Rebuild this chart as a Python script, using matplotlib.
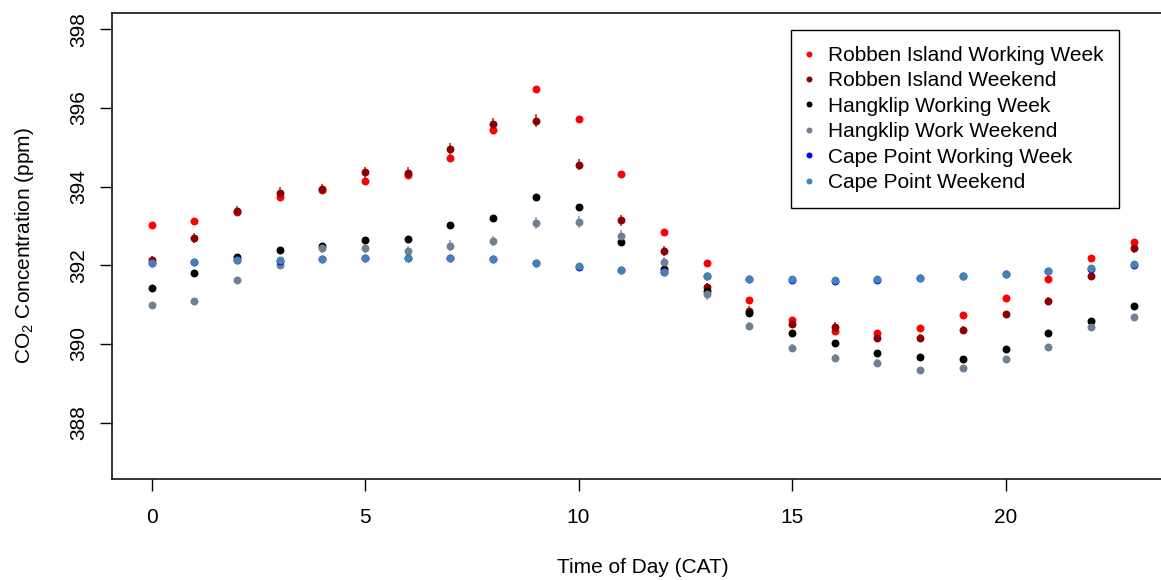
import matplotlib
matplotlib.use("Agg")
from matplotlib import pyplot as plt
from matplotlib.lines import Line2D
from matplotlib.colors import to_rgba

plt.rcParams['font.family'] = ['Liberation Sans', 'DejaVu Sans']
plt.rcParams['mathtext.fontset'] = 'custom'
plt.rcParams['mathtext.rm'] = 'Liberation Sans'
plt.rcParams['mathtext.default'] = 'rm'

#Hour of day (CAT)
hours = list(range(24))

#Robben Island
rob_ww = [393.03, 393.13, 393.36, 393.73, 393.92, 394.15, 394.30, 394.72, 395.44, 396.47, 395.72, 394.33,
          392.85, 392.06, 391.13, 390.62, 390.32, 390.27, 390.40, 390.73, 391.18, 391.66, 392.19, 392.60]
rob_ww_err = [0.06, 0.06, 0.07, 0.07, 0.07, 0.08, 0.08, 0.08, 0.09, 0.09, 0.08, 0.07,
              0.07, 0.07, 0.07, 0.07, 0.07, 0.06, 0.06, 0.06, 0.06, 0.06, 0.07, 0.08]
rob_we = [392.14, 392.69, 393.38, 393.84, 393.93, 394.36, 394.35, 394.96, 395.59, 395.68, 394.56, 393.15,
          392.37, 391.44, 390.85, 390.52, 390.44, 390.14, 390.15, 390.36, 390.75, 391.09, 391.73, 392.43]
rob_we_err = [0.10, 0.12, 0.13, 0.14, 0.13, 0.15, 0.14, 0.15, 0.16, 0.17, 0.15, 0.14,
              0.13, 0.12, 0.11, 0.11, 0.11, 0.10, 0.10, 0.10, 0.10, 0.10, 0.11, 0.12]

#Hangklip
hang_ww = [391.43, 391.81, 392.21, 392.40, 392.50, 392.63, 392.67, 393.03, 393.21, 393.74, 393.49, 392.58,
           391.90, 391.34, 390.78, 390.29, 390.02, 389.78, 389.67, 389.62, 389.86, 390.27, 390.59, 390.96]
hang_ww_err = [0.06, 0.06, 0.07, 0.07, 0.07, 0.07, 0.07, 0.07, 0.07, 0.08, 0.08, 0.08,
               0.07, 0.07, 0.07, 0.07, 0.06, 0.06, 0.06, 0.06, 0.06, 0.06, 0.06, 0.06]
hang_we = [390.98, 391.08, 391.62, 392.00, 392.44, 392.45, 392.37, 392.50, 392.61, 393.07, 393.11, 392.75,
           392.08, 391.26, 390.46, 389.90, 389.65, 389.52, 389.34, 389.39, 389.62, 389.93, 390.43, 390.68]
hang_we_err = [0.08, 0.08, 0.09, 0.10, 0.13, 0.13, 0.13, 0.13, 0.13, 0.15, 0.15, 0.15,
               0.14, 0.13, 0.11, 0.10, 0.09, 0.09, 0.08, 0.08, 0.08, 0.08, 0.09, 0.09]

#Cape Point
cape_ww = [392.05, 392.09, 392.13, 392.12, 392.15, 392.18, 392.19, 392.19, 392.15, 392.06, 391.96, 391.87,
           391.82, 391.72, 391.66, 391.63, 391.60, 391.63, 391.68, 391.73, 391.79, 391.85, 391.91, 392.00]
cape_ww_err = [0.04] * 24
cape_we = [392.05, 392.09, 392.13, 392.14, 392.15, 392.18, 392.19, 392.19, 392.15, 392.06, 391.97, 391.88,
           391.83, 391.74, 391.66, 391.64, 391.63, 391.64, 391.68, 391.73, 391.79, 391.85, 391.93, 392.04]
cape_we_err = [0.05] * 24

series = [
    ("Robben Island Working Week", rob_ww, rob_ww_err, "#FF0000"),
    ("Robben Island Weekend", rob_we, rob_we_err, "#8B0000"),
    ("Hangklip Working Week", hang_ww, hang_ww_err, "#000000"),
    ("Hangklip Work Weekend", hang_we, hang_we_err, "#708090"),
    ("Cape Point Working Week", cape_ww, cape_ww_err, "#0000FF"),
    ("Cape Point Weekend", cape_we, cape_we_err, "#4682B4"),
]

fig = plt.figure(figsize=(11.61, 5.8), dpi=100)
ax = fig.add_axes([0.0967, 0.1736, 0.9136, 0.8045])

handles = []
for name, vals, err, col in series:
    ax.errorbar(hours, vals, yerr=err, fmt='o', color=col, ecolor=to_rgba(col, 0.7),
                ms=5.7, mew=0, elinewidth=1.3, capsize=3.0, capthick=1.3, clip_on=False)
    handles.append(Line2D([], [], ls='none', marker='o', color=col, ms=4.3, mew=0, label=name))

ax.set_xlim(-0.92, 23.92)
ax.set_ylim(386.56, 398.42)
ax.set_xticks([0, 5, 10, 15, 20])
ax.set_yticks([388, 390, 392, 394, 396, 398])
ax.tick_params(labelsize=15, length=8.5, width=1.0, pad=9)
ax.tick_params(axis='x', pad=12.5)
for lbl in ax.get_yticklabels():
    lbl.set_rotation(90)
    lbl.set_va('center')
for sp in ax.spines.values():
    sp.set_linewidth(1.1)

ax.set_xlabel("Time of Day (CAT)", fontsize=15, labelpad=22)
ax.set_ylabel(r"CO$_2$ Concentration (ppm)", fontsize=15, labelpad=24)

leg = ax.legend(handles=handles, loc='upper left', bbox_to_anchor=(791 / 1161, 1 - 30 / 580),
                bbox_transform=fig.transFigure, borderaxespad=0, fontsize=15, frameon=True,
                fancybox=False, framealpha=1, edgecolor='black', borderpad=0.76,
                labelspacing=0.31, handlelength=0.22, handletextpad=0.78)
leg.get_frame().set_linewidth(1.0)

plt.savefig("out.png", dpi=100)
